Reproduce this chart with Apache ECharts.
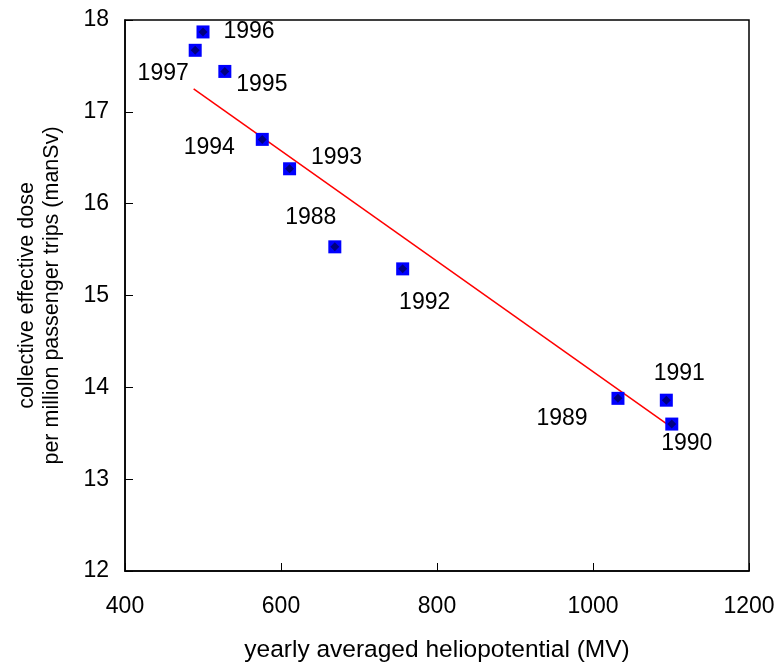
<!DOCTYPE html>
<html>
<head>
<meta charset="utf-8">
<script src="https://cdn.jsdelivr.net/npm/echarts@6/dist/echarts.min.js"></script>
<style>
  html, body { margin: 0; padding: 0; background: #fff; }
  #chart { width: 779px; height: 664px; }
</style>
</head>
<body>
<div id="chart"></div>
<script>
// data
const years = ['1996', '1997', '1995', '1994', '1993', '1988', '1992', '1989', '1991', '1990'];
const helio = [500, 490, 528, 576, 611, 669, 756, 1032, 1094, 1101];
const dose = [17.87, 17.67, 17.44, 16.70, 16.38, 15.53, 15.29, 13.88, 13.86, 13.60];

// linear fit end points
const fitX = [488, 1100];
const fitY = [17.25, 13.57];

const xTicks = [400, 600, 800, 1000, 1200];
const yTicks = [12, 13, 14, 15, 16, 17, 18];

// label offsets (px, from marker centre) - layout only
const labelOffset = {
  '1996': [46, 0],
  '1997': [-32, 23],
  '1995': [37, 13],
  '1994': [-53, 8],
  '1993': [47, -11],
  '1988': [-24, -29],
  '1992': [22, 34],
  '1989': [-56, 20],
  '1991': [13, -27],
  '1990': [15, 20]
};

const font = 'Liberation Sans, Arial, sans-serif';
const chart = echarts.init(document.getElementById('chart'));

const points = helio.map((x, i) => ({
  value: [x, dose[i]],
  name: years[i],
  label: {
    show: true,
    formatter: years[i],
    position: 'inside',
    align: 'center',
    verticalAlign: 'middle',
    offset: labelOffset[years[i]],
    color: '#000',
    opacity: 1,
    fontSize: 23,
    fontFamily: font
  }
}));

const option = {
  animation: false,
  grid: {
    left: 125, right: 30, top: 20, bottom: 93,
    outerBoundsMode: 'none',
    containLabel: false,
    show: true, borderColor: '#000', borderWidth: 1.5, backgroundColor: '#fff'
  },
  xAxis: {
    type: 'value',
    min: xTicks[0], max: xTicks[xTicks.length - 1], interval: 200,
    name: 'yearly averaged heliopotential (MV)',
    nameLocation: 'middle', nameGap: 67,
    nameTextStyle: { color: '#000', fontSize: 24.5, fontFamily: font },
    axisLine: { show: true, lineStyle: { color: '#000', width: 1.5 } },
    axisTick: { show: true, inside: true, length: 8, lineStyle: { color: '#000', width: 1 } },
    axisLabel: { color: '#000', fontSize: 23, fontFamily: font, margin: 24, formatter: v => String(v) },
    splitLine: { show: false }
  },
  yAxis: {
    type: 'value',
    min: yTicks[0], max: yTicks[yTicks.length - 1], interval: 1,
    name: 'collective effective dose\nper million passenger trips (manSv)',
    nameLocation: 'middle', nameGap: 60, nameRotate: 90,
    nameTextStyle: { color: '#000', fontSize: 21.5, fontFamily: font, lineHeight: 25 },
    axisLine: { show: true, lineStyle: { color: '#000', width: 1.5 } },
    axisTick: { show: true, inside: true, length: 8, lineStyle: { color: '#000', width: 1 } },
    axisLabel: { color: '#000', fontSize: 23, fontFamily: font, margin: 16 },
    splitLine: { show: false }
  },
  series: [
    {
      type: 'line',
      data: fitX.map((x, i) => [x, fitY[i]]),
      showSymbol: false,
      lineStyle: { color: '#ff0000', width: 1.5 },
      z: 1
    },
    {
      type: 'scatter',
      data: points,
      symbol: 'rect',
      symbolSize: 13,
      itemStyle: { color: '#0000ff', opacity: 1 },
      z: 2
    },
    {
      type: 'scatter',
      data: helio.map((x, i) => [x, dose[i]]),
      symbol: 'diamond',
      symbolSize: 9,
      itemStyle: { color: '#000080', opacity: 1 },
      silent: true,
      z: 3
    }
  ]
};

chart.setOption(option);
</script>
</body>
</html>
